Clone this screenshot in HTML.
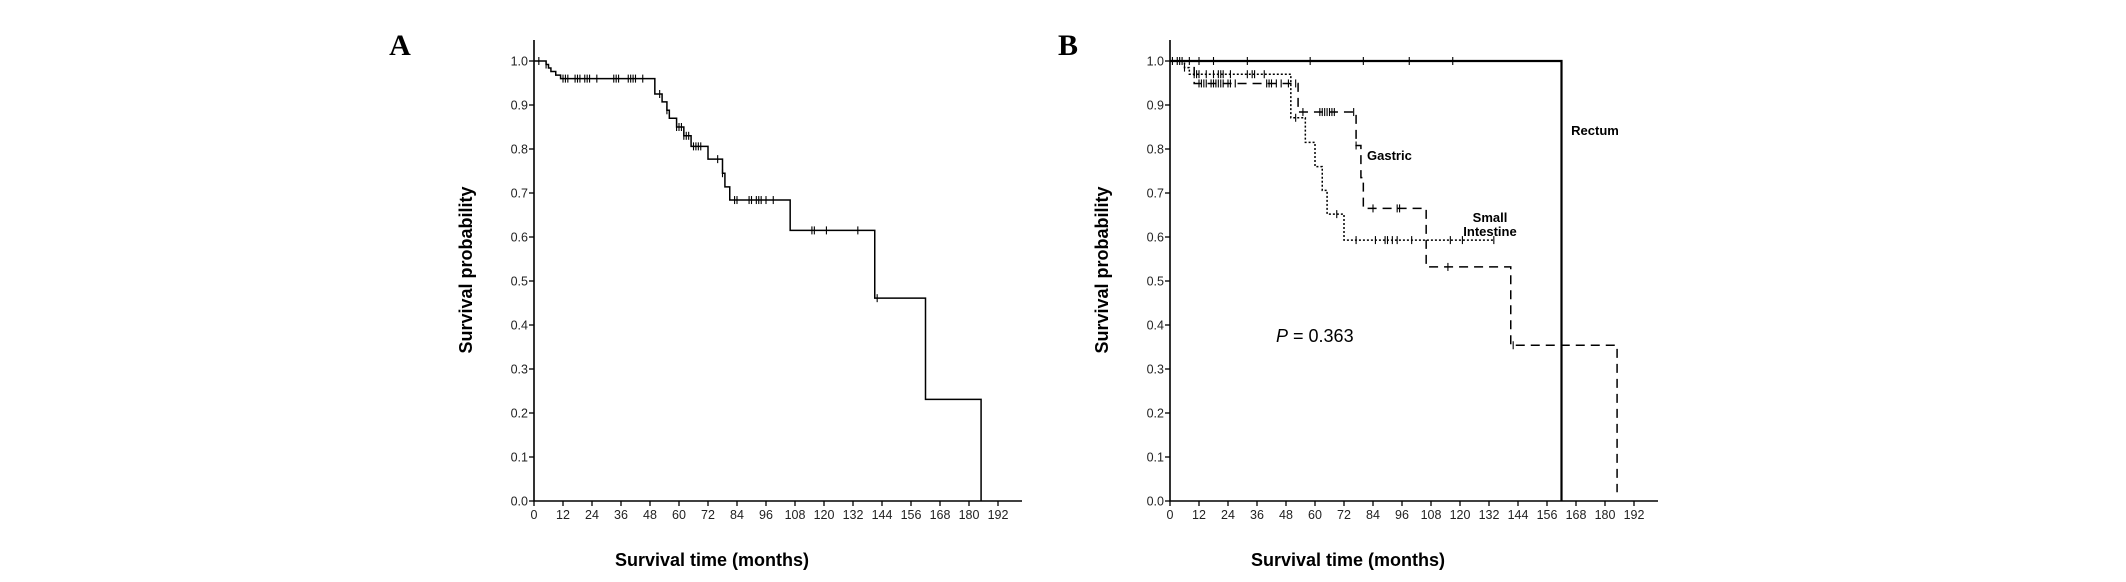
<!DOCTYPE html>
<html><head><meta charset="utf-8"><style>
html,body{margin:0;padding:0;background:#fff;}
svg{display:block;font-family:"Liberation Sans",Arial,sans-serif;}
</style></head><body>
<svg id="c" width="2126" height="582" viewBox="0 0 2126 582"></svg>
<script>
const xTicks=[0,12,24,36,48,60,72,84,96,108,120,132,144,156,168,180,192];
const yTicks=[0,0.1,0.2,0.3,0.4,0.5,0.6,0.7,0.8,0.9,1.0];
// Panel A overall KM
const aTimes=[0,5,6,7,9,11,50,53,55,56,59,62,65,72,78,79,81,106,141,162,185];
const aSurv=[1,0.992,0.984,0.976,0.968,0.96,0.925,0.907,0.888,0.87,0.85,0.83,0.806,0.777,0.745,0.714,0.684,0.615,0.461,0.231,0];
const aEnd=185;
const aCens=[2,5,12,13,14,17,18,19,21,22,23,26,33,34,35,39,40,41,42,45,52,55,59,60,61,62,63,64,66,67,68,69,76,78,83,84,89,90,92,93,94,96,99,115,116,121,134,142];
// Panel B
const rTimes=[0,162];
const rSurv=[1,0];
const rEnd=162;
const rCens=[1,3,4,5,8,12,18,32,58,80,99,117];
const sTimes=[0,6,8,50,56,60,63,65,72];
const sSurv=[1,0.985,0.97,0.871,0.815,0.76,0.706,0.652,0.593];
const sEnd=134;
const sCens=[6,10,11,12,15,18,20,21,22,25,32,34,35,39,52,69,77,85,89,90,92,94,100,116,121,134];
const gTimes=[0,10,53,77,79,80,106,141,185];
const gSurv=[1,0.949,0.884,0.808,0.735,0.665,0.532,0.354,0.02];
const gEnd=185;
const gCens=[12,13,14,15,17,18,19,20,21,22,24,25,27,40,41,42,44,46,49,52,55,62,63,64,65,66,67,68,76,77,84,94,95,115,142];

const NS='http://www.w3.org/2000/svg';
const svg=document.getElementById('c');
function mk(tag,attrs,parent){const e=document.createElementNS(NS,tag);for(const k in attrs)e.setAttribute(k,attrs[k]);(parent||svg).appendChild(e);return e;}
function panel(x0,name){
  const g=mk('g',{});
  
  
  const sx=m=>x0+m*29/12, sy=v=>501-v*440;
  const ax=mk('path',{d:`M${x0},40 V501 H${x0+488}`,stroke:'#000','stroke-width':1.6,fill:'none'},g);
  
  
  xTicks.forEach(t=>{
    mk('line',{x1:sx(t),x2:sx(t),y1:501,y2:506,stroke:'#000','stroke-width':1.3},g);
    const tx=mk('text',{x:sx(t),y:519,'font-size':12.5,'text-anchor':'middle',fill:'#222'},g);
    tx.textContent=t;
    
    
  });
  yTicks.forEach(t=>{
    mk('line',{x1:x0-5,x2:x0,y1:sy(t),y2:sy(t),stroke:'#000','stroke-width':1.3},g);
    const tx=mk('text',{x:x0-6,y:sy(t)+4.5,'font-size':12.5,'text-anchor':'end',fill:'#222'},g);
    tx.textContent=t.toFixed(1);
    
    
  });
  const yt=mk('text',{x:0,y:0,'font-size':18,'font-weight':'bold','text-anchor':'middle',transform:`translate(${x0-62},270) rotate(-90)`},g);
  yt.textContent='Survival probability';
  
  
  const xt=mk('text',{x:x0+178,y:566,'font-size':18,'font-weight':'bold','text-anchor':'middle'},g);
  xt.textContent='Survival time (months)';
  
  
  return {g,sx,sy};
}
function km(p,times,surv,end,cens,style,name){
  let d=`M${p.sx(times[0])},${p.sy(surv[0])}`;
  for(let i=1;i<times.length;i++){d+=` H${p.sx(times[i])} V${p.sy(surv[i])}`;}
  d+=` H${p.sx(end)}`;
  const path=mk('path',Object.assign({d,fill:'none',stroke:'#000'},style),p.g);
  
  
  cens.forEach(c=>{
    let v=surv[0];
    for(let i=0;i<times.length;i++){if(times[i]<=c)v=surv[i];}
    const l=mk('line',{x1:p.sx(c),x2:p.sx(c),y1:p.sy(v)-4,y2:p.sy(v)+4,stroke:'#000','stroke-width':1.1},p.g);
    
    
  });
}
const A=panel(534,'panel-a');
km(A,aTimes,aSurv,aEnd,aCens,{'stroke-width':1.5},'overall-curve');
const B=panel(1170,'panel-b');
km(B,rTimes,rSurv,rEnd,rCens,{'stroke-width':2.2},'rectum-curve');
km(B,sTimes,sSurv,sEnd,sCens,{'stroke-width':1.5,'stroke-dasharray':'2,2'},'small-intestine-curve');
km(B,gTimes,gSurv,gEnd,gCens,{'stroke-width':1.5,'stroke-dasharray':'9,6'},'gastric-curve');
function txt(x,y,s,attrs,name){const t=mk('text',Object.assign({x,y},attrs));t.textContent=s;
  
  return t;}
txt(400,55,'A',{'font-size':30,'font-weight':'bold','font-family':'Liberation Serif, serif','text-anchor':'middle'},'panel-a-label');
txt(1068,55,'B',{'font-size':30,'font-weight':'bold','font-family':'Liberation Serif, serif','text-anchor':'middle'},'panel-b-label');
txt(1595,135,'Rectum',{'font-size':13,'font-weight':'bold','text-anchor':'middle'},'rectum-label');
txt(1367,160,'Gastric',{'font-size':13,'font-weight':'bold'},'gastric-label');
txt(1490,222,'Small',{'font-size':13,'font-weight':'bold','text-anchor':'middle'},'small-label');
txt(1490,236,'Intestine',{'font-size':13,'font-weight':'bold','text-anchor':'middle'},'intestine-label');
const pv=txt(1276,342,'',{'font-size':18},'p-value');
const pi=document.createElementNS(NS,'tspan');pi.setAttribute('font-style','italic');pi.textContent='P';pv.appendChild(pi);
pv.appendChild(document.createTextNode(' = 0.363'));
</script>
</body></html>
